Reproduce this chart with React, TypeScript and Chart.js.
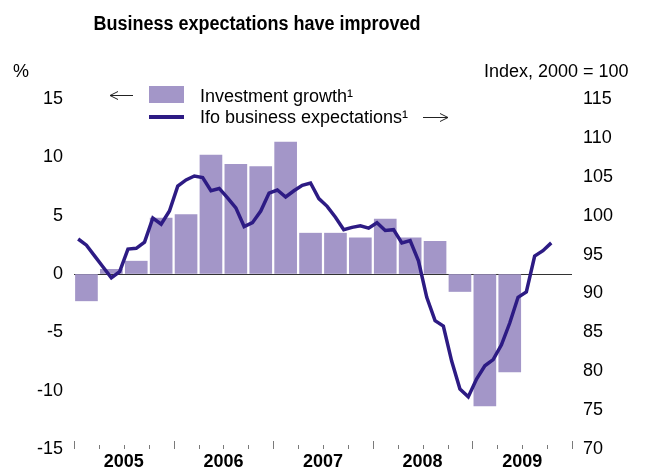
import React, { useEffect, useRef } from 'react';
import { Chart, registerables } from 'chart.js';

Chart.register(...registerables);

// ---- data ----
const title = 'Business expectations have improved';
const years = ['2005', '2006', '2007', '2008', '2009'];
const leftUnit = '%';
const rightUnit = 'Index, 2000 = 100';
const legendBar = 'Investment growth\u00B9';
const legendLine = 'Ifo business expectations\u00B9';

// quarterly investment growth, Q1 2005 .. Q2 2009 (%)
const investmentGrowth = [
  -2.3, 0.4, 1.1, 4.8,
  5.1, 10.2, 9.4, 9.2,
  11.3, 3.5, 3.5, 3.1,
  4.7, 3.1, 2.8, -1.5,
  -11.3, -8.4,
];

// monthly Ifo business expectations, Jan 2005 .. Oct 2009 (index)
const ifoExpectations = [
  97.0, 96.2, 94.8, 93.4, 92.0, 92.8, 95.7, 95.8, 96.6, 99.7, 98.9, 100.6,
  103.8, 104.6, 105.1, 104.9, 103.2, 103.5, 102.3, 101.0, 98.6, 99.1, 100.6, 102.9,
  103.3, 102.4, 103.2, 103.9, 104.2, 102.2, 101.2, 99.8, 98.2, 98.5, 98.7, 98.4,
  99.1, 98.1, 98.2, 96.5, 96.8, 94.2, 89.5, 86.5, 85.8, 81.3, 77.7, 76.7,
  79.0, 80.7, 81.5, 83.4, 86.2, 89.5, 90.2, 94.8, 95.5, 96.5,
];

const leftMin = -15;
const leftMax = 15;
const rightMin = 70;
const rightMax = 115;

const BAR_COLOR = '#a396c8';
const LINE_COLOR = '#2d1b84';
const FONT = '"Liberation Sans", Arial, Helvetica, sans-serif';

const overlayPlugin = {
  id: 'overlay',
  afterDraw(chart: any) {
    const ctx = chart.ctx as CanvasRenderingContext2D;
    const xs = chart.scales.x;
    const { bottom } = chart.chartArea;
    ctx.save();
    // x-axis tick marks (quarters, years longer)
    ctx.strokeStyle = '#7a7a7a';
    ctx.lineWidth = 1;
    for (let v = 0; v <= years.length * 12; v += 3) {
      const px = Math.round(xs.getPixelForValue(v)) + 0.5;
      const len = v % 12 === 0 ? 8 : 4;
      ctx.beginPath();
      ctx.moveTo(px, bottom);
      ctx.lineTo(px, bottom - len);
      ctx.stroke();
    }
    // title
    ctx.fillStyle = '#000';
    ctx.font = `bold 20px ${FONT}`;
    ctx.textAlign = 'center';
    ctx.textBaseline = 'alphabetic';
    ctx.save();
    ctx.translate(257, 30);
    ctx.scale(0.9, 1);
    ctx.fillText(title, 0, 0);
    ctx.restore();
    // units
    ctx.font = `18px ${FONT}`;
    ctx.textAlign = 'left';
    ctx.fillText(leftUnit, 13, 77);
    ctx.fillText(rightUnit, 484, 77);
    // legend
    ctx.fillStyle = BAR_COLOR;
    ctx.fillRect(149, 86, 35, 17);
    ctx.strokeStyle = LINE_COLOR;
    ctx.lineWidth = 4;
    ctx.beginPath();
    ctx.moveTo(149, 117);
    ctx.lineTo(184, 117);
    ctx.stroke();
    ctx.fillStyle = '#000';
    ctx.fillText(legendBar, 200, 102);
    ctx.fillText(legendLine, 200, 123);
    // arrows
    ctx.strokeStyle = '#222';
    ctx.lineWidth = 1;
    ctx.beginPath();
    ctx.moveTo(110, 95.5);
    ctx.lineTo(133, 95.5);
    ctx.moveTo(118, 91.5);
    ctx.lineTo(110, 95.5);
    ctx.lineTo(118, 99.5);
    ctx.moveTo(423, 117.5);
    ctx.lineTo(448, 117.5);
    ctx.moveTo(440, 113.5);
    ctx.lineTo(448, 117.5);
    ctx.lineTo(440, 121.5);
    ctx.stroke();
    ctx.restore();
  },
};

export default function App() {
  const ref = useRef<HTMLCanvasElement | null>(null);

  useEffect(() => {
    if (!ref.current) return;
    const barData = investmentGrowth.map((v, i) => ({ x: i * 3 + 1.5, y: v }));
    const lineData = ifoExpectations.map((v, i) => ({ x: i + 0.5, y: v }));
    const chart = new Chart(ref.current, {
      type: 'bar',
      data: {
        datasets: [
          {
            type: 'line',
            label: legendLine,
            data: lineData,
            yAxisID: 'y2',
            borderColor: LINE_COLOR,
            borderWidth: 3.5,
            pointRadius: 0,
            tension: 0,
            order: 0,
          } as any,
          {
            type: 'bar',
            label: legendBar,
            data: barData,
            yAxisID: 'y',
            backgroundColor: BAR_COLOR,
            borderWidth: 0,
            barThickness: 22,
            order: 1,
          } as any,
        ],
      },
      options: {
        responsive: false,
        animation: false,
        layout: { padding: { top: 99, left: 0, right: 0, bottom: 0 } },
        plugins: { legend: { display: false }, tooltip: { enabled: false }, title: { display: false } },
        scales: {
          x: {
            type: 'linear',
            position: 'bottom',
            min: 0,
            max: years.length * 12,
            offset: false,
            grid: { display: false, drawTicks: false },
            border: { display: false },
            ticks: {
              stepSize: 6,
              autoSkip: false,
              maxRotation: 0,
              minRotation: 0,
              padding: 2,
              color: '#000',
              font: { family: FONT, size: 18, weight: 'bold' },
              callback: (value: any) => {
                const v = Number(value);
                if (v % 12 === 6) return years[(v - 6) / 12];
                return '';
              },
            },
            afterFit: (s: any) => { s.height = 19; },
          },
          y: {
            position: 'left',
            min: leftMin,
            max: leftMax,
            grid: {
              drawTicks: true,
              tickLength: 11,
              tickColor: 'rgba(0,0,0,0)',
              color: (c: any) => (c.tick && c.tick.value === 0 ? '#333' : 'rgba(0,0,0,0)'),
              lineWidth: 1,
            },
            border: { display: false },
            ticks: { stepSize: 5, padding: 0, color: '#000', font: { family: FONT, size: 18 } },
            afterFit: (s: any) => { s.width = 74; },
          },
          y2: {
            position: 'right',
            min: rightMin,
            max: rightMax,
            grid: {
              display: true,
              drawOnChartArea: false,
              drawTicks: true,
              tickLength: 11,
              tickColor: 'rgba(0,0,0,0)',
            },
            border: { display: false },
            ticks: { stepSize: 5, padding: 0, color: '#000', font: { family: FONT, size: 18 } },
            afterFit: (s: any) => { s.width = 75; },
          },
        },
      } as any,
      plugins: [overlayPlugin],
    });
    return () => chart.destroy();
  }, []);

  return (
    <div style={{ position: 'absolute', left: 0, top: 0, width: 647, height: 468, background: '#fff' }}>
      <canvas ref={ref} width={647} height={468} style={{ display: 'block' }} />
    </div>
  );
}
